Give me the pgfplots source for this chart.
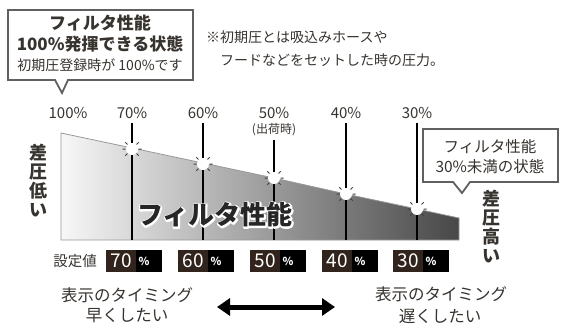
\documentclass[border=0pt]{standalone}
\usepackage{fontspec}
\setmainfont{Noto Sans CJK JP}
\usepackage{pgfplots}
\pgfplotsset{compat=1.18}
\usetikzlibrary{arrows.meta}
\definecolor{txt}{HTML}{37332F}
\definecolor{boxline}{HTML}{606060}
\definecolor{lcdbg}{HTML}{30241C}
\definecolor{spike}{HTML}{404040}
\newcommand\fs[1]{\fontsize{#1}{#1}\selectfont}
\pgfdeclareplotmark{burst}{%
  \pgfpathcircle{\pgfpointorigin}{6pt}%
  \pgfsetfillcolor{white}\pgfusepath{fill}%
  \pgfsetlinewidth{1pt}\pgfsetstrokecolor{spike}%
  \pgfpathmoveto{\pgfpoint{6.5pt}{0pt}}\pgfpathlineto{\pgfpoint{9.5pt}{0pt}}%
  \pgfpathmoveto{\pgfpoint{-6.5pt}{0pt}}\pgfpathlineto{\pgfpoint{-9.5pt}{0pt}}%
  \pgfpathmoveto{\pgfpoint{4.6pt}{4.6pt}}\pgfpathlineto{\pgfpoint{6.7pt}{6.7pt}}%
  \pgfpathmoveto{\pgfpoint{-4.6pt}{4.6pt}}\pgfpathlineto{\pgfpoint{-6.7pt}{6.7pt}}%
  \pgfpathmoveto{\pgfpoint{4.6pt}{-4.6pt}}\pgfpathlineto{\pgfpoint{6.7pt}{-6.7pt}}%
  \pgfpathmoveto{\pgfpoint{-4.6pt}{-4.6pt}}\pgfpathlineto{\pgfpoint{-6.7pt}{-6.7pt}}%
  \pgfusepath{stroke}%
}
\newcommand\bigtxt{\fs{26}\bfseries フィルタ性能}
\begin{document}
\begin{tikzpicture}
\begin{axis}[width=563pt,height=325pt,scale only axis,
  xmin=0,xmax=563,ymin=0,ymax=325,y dir=reverse,
  hide axis,clip=false]
\path (axis cs:0,0) rectangle (axis cs:563,325);
% gradient area: differential pressure profile
\addplot[draw=gray!80, line width=0.8pt, left color=black!3, right color=black!72]
  coordinates {(61,133) (132,148) (203,163) (274,178) (346,194) (417,209) (459,218) (459,240) (61,240)} -- cycle;
% vertical guide lines
\addplot[black, line width=1.4pt] coordinates {(132,123) (132,240)};
\addplot[black, line width=1.4pt] coordinates {(203,123) (203,240)};
\addplot[black, line width=1.4pt] coordinates {(274,140) (274,240)};
\addplot[black, line width=1.4pt] coordinates {(346,123) (346,240)};
\addplot[black, line width=1.4pt] coordinates {(417,123) (417,240)};
% setting points
\addplot[only marks, mark=burst] coordinates {(132,149) (203,164) (274,178) (346,194) (417,209)};
% percent labels
\node[font=\fs{15}, text=txt] at (axis cs:68,113) {100\%};
\node[font=\fs{15}, text=txt] at (axis cs:132,113) {70\%};
\node[font=\fs{15}, text=txt] at (axis cs:203,113) {60\%};
\node[font=\fs{15}, text=txt] at (axis cs:274,113) {50\%};
\node[font=\fs{12}, text=txt] at (axis cs:274,130) {(出荷時)};
\node[font=\fs{15}, text=txt] at (axis cs:346,113) {40\%};
\node[font=\fs{15}, text=txt] at (axis cs:417,113) {30\%};
% top-left callout
\draw[boxline, line width=1.8pt, fill=white, line join=miter]
  (axis cs:8,10) -- (axis cs:193,10) -- (axis cs:193,80) -- (axis cs:68,80) -- (axis cs:62,93) -- (axis cs:55,80) -- (axis cs:8,80) -- cycle;
\node[font=\fs{17}\bfseries, text=txt] at (axis cs:100,23) {フィルタ性能};
\node[font=\fs{17}\bfseries, text=txt] at (axis cs:100,44) {100\%発揮できる状態};
\node[font=\fs{14}, text=txt] at (axis cs:100,65) {初期圧登録時が 100\%です};
% note
\node[font=\fs{14}, text=txt, anchor=west, inner sep=0pt] at (axis cs:206,37) {※初期圧とは吸込みホースや};
\node[font=\fs{14}, text=txt, anchor=west, inner sep=0pt] at (axis cs:220,60) {フードなどをセットした時の圧力。};
% right callout
\draw[boxline, line width=1.8pt, fill=white, line join=miter]
  (axis cs:423,129) -- (axis cs:558,129) -- (axis cs:558,182) -- (axis cs:470,182) -- (axis cs:462,193) -- (axis cs:453,182) -- (axis cs:423,182) -- cycle;
\node[font=\fs{15.5}, text=txt] at (axis cs:490,147) {フィルタ性能};
\node[font=\fs{15.5}, text=txt] at (axis cs:490,167) {30\%未満の状態};
% vertical captions
\node[font=\fs{18}\bfseries, text=txt, align=center, inner sep=0pt] at (axis cs:38,181) {差\\[1pt]圧\\[1pt]低\\[1pt]い};
\node[font=\fs{18}\bfseries, text=txt, align=center, inner sep=0pt] at (axis cs:491,227) {差\\[1pt]圧\\[1pt]高\\[1pt]い};
% big label with white outline (stroke render mode), then fill
\node[white] at (axis cs:215,215) {\special{pdf:literal direct 1 Tr 3 w 1 1 1 RG 1 j}\bigtxt\special{pdf:literal direct 0 Tr 1 w}};
\node[text=black!85] at (axis cs:215,215) {\bigtxt};
% setting value displays
\node[font=\fs{14.5}, text=txt] at (axis cs:75,261) {設定値};
\foreach \cx/\v in {134/70,206/60,278/50,350/40,421/30}{
  \edef\tmp{\noexpand\fill[black] (axis cs:\cx-28,250) rectangle (axis cs:\cx+28,272);
  \noexpand\fill[lcdbg] (axis cs:\cx-28,250) rectangle (axis cs:\cx+2,272);
  \noexpand\node[white, font=\noexpand\fs{19}, inner sep=0pt] at (axis cs:\cx-13,261) {\v};
  \noexpand\node[white, font=\noexpand\fs{11}\noexpand\bfseries, inner sep=0pt] at (axis cs:\cx+10,261) {\noexpand\%};}
  \tmp
}
% bottom captions
\node[font=\fs{16.5}, text=txt] at (axis cs:127,295) {表示のタイミング};
\node[font=\fs{16.5}, text=txt] at (axis cs:127,316) {早くしたい};
\node[font=\fs{16.5}, text=txt] at (axis cs:441,294) {表示のタイミング};
\node[font=\fs{16.5}, text=txt] at (axis cs:440,316) {遅くしたい};
\draw[black, line width=5pt, {Triangle[length=13pt,width=17pt]}-{Triangle[length=13pt,width=17pt]}]
  (axis cs:217,307) -- (axis cs:335,307);
\end{axis}
\end{tikzpicture}
\end{document}
